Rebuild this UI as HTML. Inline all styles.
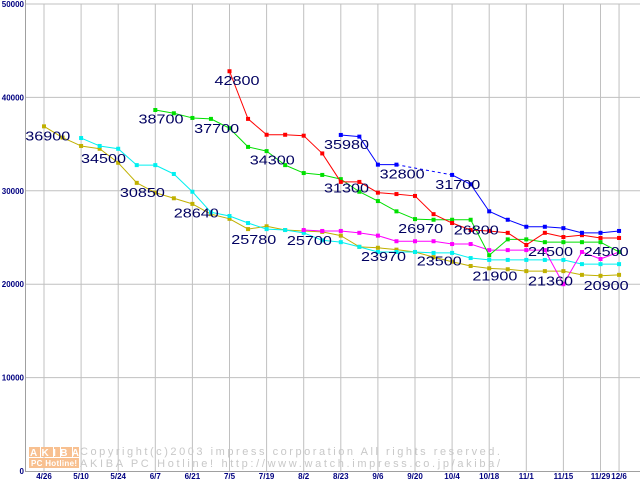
<!DOCTYPE html>
<html><head><meta charset="utf-8"><style>
body{margin:0;background:#fff;}
svg text{font-family:"Liberation Sans",sans-serif;}
</style></head><body>
<svg id="chart" width="640" height="480" xmlns="http://www.w3.org/2000/svg">
<g id="grid"></g>
<g id="watermark">
 <rect x="29" y="447" width="11" height="10" fill="#f8c090"/><rect x="41" y="447" width="12" height="10" fill="#f8c090"/><rect x="54" y="447" width="6" height="10" fill="#f8c090"/><rect x="61" y="447" width="11" height="10" fill="#f8c090"/><rect x="73" y="447" width="6" height="10" fill="#f8c090"/>
 <text x="30" y="456" font-size="10" fill="#fff" font-weight="bold" textLength="49">AKIBA</text>
 <rect x="29" y="458" width="50" height="10" fill="#f8c090"/>
 <text x="31" y="466" font-size="8" fill="#fff" font-weight="bold" textLength="46">PC Hotline!</text>
 <text x="80" y="455" font-size="11" fill="#c8c8c8" font-family="Liberation Mono, monospace" textLength="420">Copyright(c)2003 impress corporation All rights reserved.</text>
 <text x="80" y="467" font-size="11" fill="#c8c8c8" font-family="Liberation Mono, monospace" textLength="420">AKIBA PC Hotline!  http://www.watch.impress.co.jp/akiba/</text>
</g>
<g id="axes"></g>
<g id="series"></g>
<g id="labels"></g>
</svg>
<script>
const xLabels=["4/26","5/10","5/24","6/7","6/21","7/5","7/19","8/2","8/23","9/6","9/20","10/4","10/18","11/1","11/15","11/29","12/6"];
const xLabelIdx=[0,2,4,6,8,10,12,14,16,18,20,22,24,26,28,30,31];
const yTicks=[0,10000,20000,30000,40000,50000];
const N=null;
const olive=[36900,35700,34800,34500,33000,30850,29800,29200,28600,27500,27000,25900,26200,25800,25700,25600,25200,24000,23900,23700,23450,22900,22400,21950,21700,21600,21400,21400,21400,21000,20900,21000];
const cyan=[N,N,35650,34800,34500,32750,32750,31800,29900,27700,27300,26550,25900,25800,25500,24700,24500,24000,23450,23450,23450,23350,23350,22800,22600,22600,22600,22600,22600,22150,22150,22150];
const magenta=[N,N,N,N,N,N,N,N,N,N,N,N,N,N,25800,25700,25700,25500,25200,24600,24600,24600,24300,24300,23650,23650,23650,23650,20000,23450,22700,23450];
const green=[N,N,N,N,N,N,38650,38300,37800,37700,36700,34700,34250,32750,31900,31700,31250,29900,28900,27800,26970,26900,26900,26900,23100,24800,24800,24500,24500,24500,24500,23450];
const red=[N,N,N,N,N,N,N,N,N,N,42800,37700,36000,36000,35900,34000,30950,30950,29800,29650,29450,27500,26550,25800,25700,25500,24200,25500,25050,25250,24950,24950];
const blue=[N,N,N,N,N,N,N,N,N,N,N,N,N,N,N,N,35980,35800,32800,32800,N,N,31700,30700,27800,26900,26150,26150,26000,25500,25500,25700];
const labelTexts=["36900","34500","30850","38700","37700","42800","34300","28640","25780","25700","35980","31300","32800","31700","26970","26800","23970","23500","21900","24500","21360","24500","20900"];
const labelIdx=[-0.9,2.1,4.2,5.2,8.2,9.3,11.2,7.1,10.2,13.2,15.2,15.2,18.2,21.2,19.2,22.2,17.2,20.2,23.2,26.2,26.2,29.2,29.2];
const labelVals=[36900,34500,30850,38700,37700,42800,34300,28640,25780,25700,35980,31300,32800,31700,26970,26800,23970,23500,21900,24500,21360,24500,20900];
const ns="http://www.w3.org/2000/svg";
const X=i=>44+i*18.55;
const Y=v=>471-v*0.00934;
function mk(t,a,p){const e=document.createElementNS(ns,t);for(const k in a)e.setAttribute(k,a[k]);p.appendChild(e);return e;}
const grid=document.getElementById('grid'),axes=document.getElementById('axes'),ser=document.getElementById('series'),lab=document.getElementById('labels');
yTicks.forEach(v=>{if(v>0){const l=mk('line',{x1:25,x2:640,y1:Y(v),y2:Y(v),stroke:'#c0c0c0'},grid);

}
const t=mk('text',{x:24,y:Y(v)+3,'font-size':8,'font-weight':'bold',fill:'#000080','text-anchor':'end'},axes);t.textContent=v;

});
xLabels.forEach((s,k)=>{const x=X(xLabelIdx[k]);const l=mk('line',{x1:x,x2:x,y1:4,y2:471,stroke:'#c0c0c0'},grid);


const t=mk('text',{x:x,y:479,'font-size':8,'font-weight':'bold',fill:'#000080','text-anchor':'middle'},axes);t.textContent=s;

});
mk('line',{x1:25.5,x2:25.5,y1:0,y2:471,stroke:'#a0a0a0'},axes);
mk('line',{x1:25,x2:640,y1:471.5,y2:471.5,stroke:'#a0a0a0'},axes);
function draw(data,color,name){const g=mk('g',{},ser);


let prev=-1;
data.forEach((v,i)=>{if(v===null)return;
if(prev>=0){const gap=i-prev>1;mk('line',{x1:X(prev),y1:Y(data[prev]),x2:X(i),y2:Y(v),stroke:color,'stroke-width':1,'stroke-dasharray':gap?'3,3':'none'},g);}
prev=i;});
data.forEach((v,i)=>{if(v===null)return;const r=mk('rect',{x:X(i)-2,y:Y(v)-2,width:4,height:4,fill:color},g);

});}
draw(olive,'#c0b000','series-olive');
draw(cyan,'#00f0f0','series-cyan');
draw(magenta,'#ff00ff','series-magenta');
draw(green,'#00e000','series-green');
draw(red,'#ff0000','series-red');
draw(blue,'#0000ff','series-blue');
labelTexts.forEach((s,k)=>{const t=mk('text',{x:X(labelIdx[k])-2,y:Y(labelVals[k])+14,'font-size':13,fill:'#000060',textLength:45,lengthAdjust:'spacingAndGlyphs'},lab);t.textContent=s;

});
</script>
</body></html>
